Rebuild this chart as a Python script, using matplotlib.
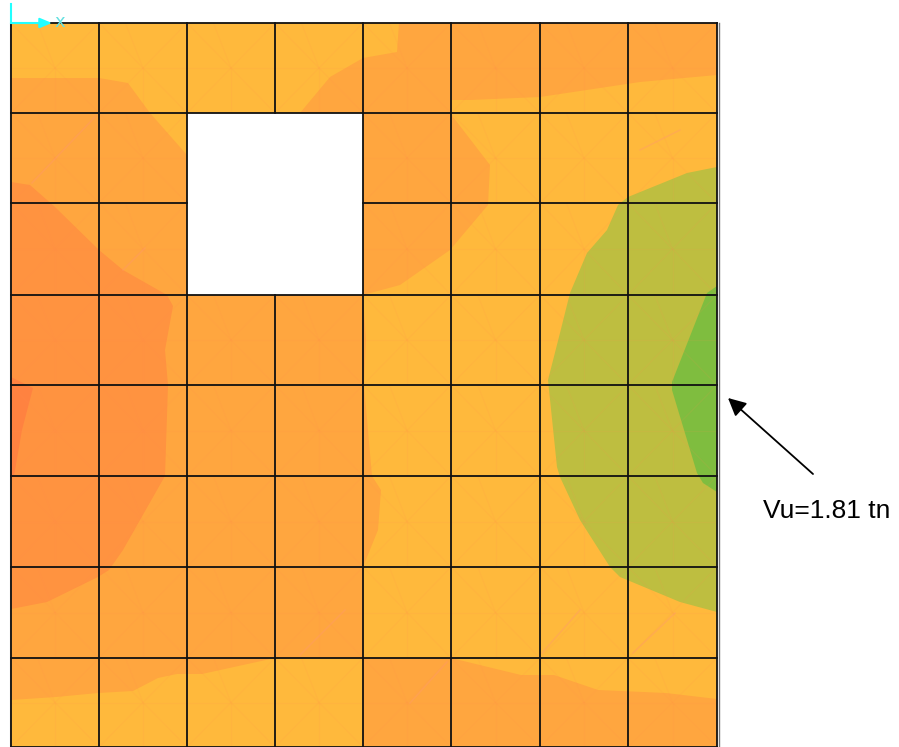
import matplotlib
matplotlib.use('Agg')
import matplotlib.pyplot as plt
from matplotlib.patches import Polygon, Rectangle
from matplotlib.collections import LineCollection

# everything in pixels
grid_x = [11, 99, 187, 275, 363, 451, 540, 628, 717]
grid_y = [23, 113, 203, 295, 385, 476, 567, 658, 747]
hole_x = [187, 363]
hole_y = [113, 295]

# contour bands, lightest to strongest
yellow_band = [(11, 23), (717, 23), (717, 747), (11, 747)]
orange_main = [(11, 78), (99, 78), (128, 83), (150, 113), (187, 155), (187, 295), (363, 295),
               (366, 340), (364, 385), (372, 476), (381, 490), (378, 530), (363, 567), (363, 658),
               (275, 658), (202, 674), (177, 674), (158, 678), (133, 691), (98, 693), (56, 697),
               (11, 700)]
orange_top = [(300, 113), (330, 77), (363, 58), (397, 52), (399, 23), (717, 23), (717, 75),
              (640, 82), (540, 97), (470, 100), (451, 100), (451, 113)]
orange_hole = [(363, 113), (450, 113), (490, 165), (488, 205), (450, 250), (400, 285), (363, 295)]
orange_bottom = [(363, 658), (451, 658), (521, 675), (554, 675), (598, 690), (666, 693),
                 (717, 699), (717, 747), (363, 747)]
dark_left = [(11, 182), (30, 185), (55, 207), (99, 250), (123, 270), (167, 295), (173, 306),
             (165, 350), (168, 385), (165, 476), (123, 550), (109, 570), (98, 577), (47, 602),
             (11, 609)]
deep_left = [(11, 377), (33, 388), (22, 430), (14, 476), (11, 476)]
olive_right = [(717, 167), (687, 173), (628, 197), (618, 205), (607, 230), (587, 253), (570, 293),
               (560, 333), (548, 380), (557, 467), (560, 477), (580, 520), (610, 567), (620, 577),
               (680, 602), (717, 612)]
green_right = [(717, 286), (707, 293), (672, 382), (672, 390), (697, 473), (703, 483), (717, 492)]

bands = [(yellow_band, '#FFB93C'), (orange_main, '#FFA63F'), (orange_top, '#FFA63F'),
         (orange_hole, '#FFA63F'), (orange_bottom, '#FFA63F'), (dark_left, '#FF9340'),
         (deep_left, '#FF8240'), (olive_right, '#BEBE40'), (green_right, '#7FBD3F')]

# faint triangle mesh inside one cell, as fractions of the cell
mesh_x = [0.0, 0.5, 1.0, 0.5, 0.0, 0.5, 1.0, 0.5, 0.5, 0.5, 0.0, 0.5, 1.0, 0.5, 0.5, 0.3]
mesh_y = [0.0, 0.5, 0.0, 0.5, 1.0, 0.5, 1.0, 0.5, 0.5, 1.0, 0.5, 0.5, 0.5, 0.5, 0.5, 0.0]

# pinker slivers that stand out from the mesh
sliver_x = [[32, 95], [123, 145], [633, 675], [542, 580], [410, 447], [300, 345], [640, 680]]
sliver_y = [[183, 117], [270, 248], [653, 613], [653, 610], [703, 662], [655, 610], [150, 130]]

fig = plt.figure(figsize=(8.99, 7.47), dpi=100)
ax = fig.add_axes([0, 0, 1, 1])
ax.set_xlim(0, 899)
ax.set_ylim(747, 0)
ax.axis('off')

for pts, col in bands:
    ax.add_patch(Polygon(pts, closed=True, facecolor=col, edgecolor='none', zorder=1))

segs = []
for i in range(len(grid_x) - 1):
    for j in range(len(grid_y) - 1):
        w = grid_x[i + 1] - grid_x[i]
        h = grid_y[j + 1] - grid_y[j]
        for k in range(0, len(mesh_x), 2):
            segs.append([(grid_x[i] + mesh_x[k] * w, grid_y[j] + mesh_y[k] * h),
                         (grid_x[i] + mesh_x[k + 1] * w, grid_y[j] + mesh_y[k + 1] * h)])
ax.add_collection(LineCollection(segs, colors='#FF9050', linewidths=0.9, alpha=0.10, zorder=2))

for sx, sy in zip(sliver_x, sliver_y):
    ax.plot(sx, sy, color='#FF9A6A', lw=1.1, alpha=0.4, zorder=2)

# the opening
ax.add_patch(Rectangle((hole_x[0], hole_y[0]), hole_x[1] - hole_x[0], hole_y[1] - hole_y[0],
                       facecolor='white', edgecolor='none', zorder=3))

# grid, broken across the opening
for x in grid_x:
    if x == 275:
        ax.plot([x, x], [grid_y[0], hole_y[0]], color='#111111', lw=1.3, zorder=4)
        ax.plot([x, x], [hole_y[1], grid_y[-1]], color='#111111', lw=1.3, zorder=4)
    else:
        ax.plot([x, x], [grid_y[0], grid_y[-1]], color='#111111', lw=1.3, zorder=4)
for y in grid_y:
    if y == 203:
        ax.plot([grid_x[0], hole_x[0]], [y, y], color='#111111', lw=1.3, zorder=4)
        ax.plot([hole_x[1], grid_x[-1]], [y, y], color='#111111', lw=1.3, zorder=4)
    else:
        ax.plot([grid_x[0], grid_x[-1]], [y, y], color='#111111', lw=1.3, zorder=4)

# soft grey edge outside the frame
ax.plot([grid_x[0] - 1.5] * 2, [grid_y[0], grid_y[-1]], color='#AAAAAA', lw=0.8, zorder=3)
ax.plot([grid_x[-1] + 1.5] * 2, [grid_y[0], grid_y[-1]], color='#777777', lw=1.0, zorder=3)

# axis marker
ax.plot([11, 11], [4, 23], color='#22FFFF', lw=1.5, zorder=5)
ax.annotate('', xy=(52, 23), xytext=(11, 23),
            arrowprops=dict(arrowstyle='-|>,head_length=0.6,head_width=0.25', color='#22FFFF',
                            lw=1.5, mutation_scale=12, shrinkA=0, shrinkB=0), zorder=5)
ax.text(60, 22, 'x', color='#66E0E0', fontsize=13, ha='center', va='center',
        family='DejaVu Sans', zorder=5)

# reaction label
ax.annotate('', xy=(728, 398), xytext=(813, 474),
            arrowprops=dict(arrowstyle='-|>', color='black', lw=1.3, mutation_scale=27,
                            shrinkA=0, shrinkB=0), zorder=5)
ax.text(763, 511, 'Vu=1.81 tn', color='black', fontsize=19, ha='left', va='center',
        family='Liberation Sans', zorder=5)

fig.savefig('out.png', dpi=100)
